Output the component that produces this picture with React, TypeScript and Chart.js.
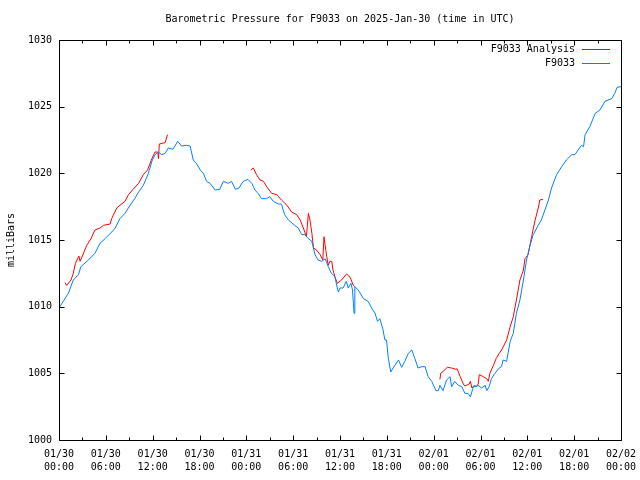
import React, { useEffect, useRef } from "react";
import { Chart, registerables } from "chart.js";

Chart.register(...registerables);

const FONT = "'DejaVu Sans Mono', 'Liberation Mono', monospace";

const titleText = "Barometric Pressure for F9033 on 2025-Jan-30 (time in UTC)";
const yAxisTitle = "milliBars";
const seriesNames = ["F9033 Analysis", "F9033"];

const xTickDates = ["01/30", "01/30", "01/30", "01/30", "01/31", "01/31", "01/31", "01/31", "02/01", "02/01", "02/01", "02/01", "02/02"];
const xTickTimes = ["00:00", "06:00", "12:00", "18:00", "00:00", "06:00", "12:00", "18:00", "00:00", "06:00", "12:00", "18:00", "00:00"];
const yTickValues = [1000, 1005, 1010, 1015, 1020, 1025, 1030];

// F9033 observations: hours since 2025-01-30 00:00 UTC, pressure in mb
const obsHours = [
  0.0, 0.55, 1.2, 1.83, 2.5, 2.8, 3.76, 4.6, 5.25, 5.9, 6.75, 7.2, 7.8, 8.45, 9.1, 9.7, 10.2, 10.8, 11.45, 11.9,
  12.3, 12.7, 13.15, 13.6, 14.0, 14.6, 15.2, 15.7, 16.35, 16.8, 17.2, 17.6, 18.1, 18.5, 18.9, 19.35, 20.0, 20.6, 21.05, 21.7,
  22.1, 22.6, 23.05, 23.6, 24.2, 24.7, 25.1, 25.5, 25.95, 26.6, 27.0, 27.45, 28.1, 28.5, 28.9, 29.4, 30.2, 30.65, 31.1, 31.5,
  31.95, 32.4, 32.8, 33.2, 33.65, 34.1, 34.5, 34.9, 35.35, 35.65, 35.8, 36.0, 36.4, 36.8, 37.05, 37.4, 37.6, 37.8, 37.9, 38.35,
  39.0, 39.6, 40.05, 40.5, 40.8, 41.1, 41.5, 41.75, 41.95, 42.2, 42.5, 42.8, 43.5, 43.9, 44.3, 44.75, 45.2, 45.6, 46.0, 46.5,
  46.9, 47.3, 47.75, 48.3, 48.6, 48.8, 49.2, 49.65, 50.1, 50.3, 50.7, 51.15, 51.6, 52.0, 52.4, 52.7, 53.1, 53.4, 53.7, 54.15,
  54.6, 54.8, 55.1, 55.4, 55.85, 56.4, 56.7, 56.9, 57.35, 57.8, 58.2, 58.6, 59.05, 59.5, 59.9, 60.3, 60.75, 61.4, 61.8, 62.25,
  62.7, 63.1, 63.75, 64.4, 65.0, 65.7, 66.1, 66.5, 66.95, 67.2, 67.4, 68.0, 68.7, 69.3, 69.95, 70.8, 71.2, 71.5, 72.0,
];
const obsPressure = [
  1009.9, 1010.4, 1011.0, 1012.0, 1012.4, 1013.0, 1013.5, 1014.0, 1014.75, 1015.1, 1015.6, 1015.9, 1016.6, 1017.0, 1017.6, 1018.1, 1018.6, 1019.1, 1020.0, 1020.9,
  1021.4, 1021.6, 1021.4, 1021.5, 1021.9, 1021.8, 1022.4, 1022.05, 1022.1, 1022.05, 1021.0, 1020.75, 1020.25, 1020.0, 1019.4, 1019.25, 1018.75, 1018.8, 1019.4, 1019.25,
  1019.4, 1018.8, 1018.9, 1019.4, 1019.55, 1019.25, 1018.75, 1018.5, 1018.1, 1018.1, 1018.25, 1017.9, 1017.7, 1017.7, 1016.9, 1016.5, 1016.1, 1015.9, 1015.4, 1015.4,
  1015.1, 1014.9, 1013.9, 1013.5, 1013.4, 1013.6, 1013.0, 1012.5, 1012.25, 1011.4, 1011.1, 1011.4, 1011.4, 1011.9, 1011.4, 1011.75, 1011.25, 1009.5, 1011.5, 1011.25,
  1010.6, 1010.4, 1009.9, 1009.5, 1008.9, 1009.1, 1008.3, 1007.5, 1007.5, 1006.1, 1005.1, 1005.4, 1006.0, 1005.45, 1005.9, 1006.5, 1006.75, 1006.1, 1005.4, 1005.5,
  1005.5, 1004.75, 1004.4, 1003.7, 1003.7, 1004.1, 1003.7, 1004.5, 1004.75, 1004.0, 1004.4, 1004.1, 1004.0, 1003.5, 1003.5, 1003.25, 1004.0, 1004.0, 1004.1, 1003.9,
  1004.1, 1003.7, 1004.0, 1004.6, 1005.0, 1005.4, 1005.5, 1006.0, 1005.9, 1007.4, 1008.0, 1009.5, 1010.5, 1012.0, 1013.5, 1014.5, 1015.4, 1016.1, 1016.5, 1017.25,
  1018.0, 1018.9, 1019.9, 1020.5, 1021.0, 1021.4, 1021.4, 1021.75, 1022.1, 1022.0, 1022.9, 1023.5, 1024.5, 1024.75, 1025.4, 1025.6, 1026.0, 1026.45, 1026.5,
];

// F9033 Analysis: three segments, null marks a gap
const anaHours = [
  0.77, 0.98, 1.54, 1.83, 2.1, 2.55, 2.7, 3.0, 3.55, 4.1, 4.6, 5.25, 5.7, 6.55, 6.75, 7.4, 7.8, 8.45, 8.9, 9.5,
  10.2, 10.8, 11.35, 11.9, 12.3, 12.65, 12.75, 12.85, 13.6, 13.9,
  19.0,
  24.6, 24.9, 25.3, 25.75, 26.2, 26.6, 27.25, 27.9, 28.5, 29.2, 29.8, 30.45, 30.9, 31.3, 31.7, 31.95, 32.15, 32.4, 32.6, 33.0,
  33.45, 33.8, 33.95, 34.1, 34.3, 34.5, 34.7, 34.95, 35.1, 35.35, 35.65, 36.2, 36.85, 37.3, 37.7, 37.9,
  43.0,
  48.8, 48.9, 49.3, 49.75, 50.3, 50.85, 51.0, 51.4, 51.8, 52.0, 52.55, 52.7, 52.9, 53.2, 53.5, 53.7, 53.85, 54.35, 54.8, 55.0,
  55.2, 55.65, 56.0, 56.4, 56.7, 57.35, 57.8, 58.2, 58.6, 59.05, 59.5, 59.7, 60.1, 60.55, 61.0, 61.4, 61.6, 62.0,
];
const anaPressure: (number | null)[] = [
  1011.8, 1011.6, 1012.0, 1012.5, 1013.25, 1013.8, 1013.4, 1013.8, 1014.6, 1015.1, 1015.75, 1015.9, 1016.1, 1016.2, 1016.6, 1017.4, 1017.6, 1017.9, 1018.4, 1018.8,
  1019.25, 1019.9, 1020.25, 1021.1, 1021.6, 1021.6, 1021.1, 1022.2, 1022.3, 1022.9,
  null,
  1020.25, 1020.4, 1019.9, 1019.5, 1019.4, 1019.0, 1018.5, 1018.4, 1018.0, 1017.6, 1017.1, 1016.9, 1016.5, 1015.9, 1015.25, 1017.0, 1016.5, 1015.5, 1014.4, 1014.25,
  1013.9, 1013.5, 1015.25, 1014.6, 1013.75, 1013.1, 1013.4, 1013.4, 1012.75, 1012.25, 1011.75, 1012.0, 1012.45, 1012.2, 1011.6, 1011.5,
  null,
  1004.55, 1005.0, 1005.2, 1005.45, 1005.4, 1005.3, 1005.35, 1004.75, 1004.2, 1004.05, 1004.2, 1004.4, 1003.9, 1004.1, 1004.0, 1004.2, 1004.9, 1004.75, 1004.6, 1004.4,
  1005.0, 1005.6, 1006.1, 1006.5, 1006.75, 1007.5, 1008.5, 1009.25, 1010.5, 1012.0, 1012.75, 1013.6, 1013.9, 1015.25, 1016.5, 1017.4, 1018.0, 1018.05,
];

const RED = "#ff0000";
const BLUE = "#0080ff";

const framePlugin = {
  id: "gnuFrame",
  afterDraw(chart: any) {
    const { ctx, chartArea: a, scales } = chart;
    const xs = scales.x;
    const ys = scales.y;
    const L = Math.round(a.left) + 0.5;
    const R = Math.round(a.right) + 0.5;
    const T = Math.round(a.top) + 0.5;
    const B = Math.round(a.bottom) + 0.5;
    ctx.save();
    ctx.strokeStyle = "#000";
    ctx.lineWidth = 1;
    ctx.beginPath();
    ctx.rect(L, T, R - L, B - T);
    // x ticks (major every 6h, minor every 3h), inward on bottom and top
    for (let h = 0; h <= 72; h += 3) {
      const len = h % 6 === 0 ? 5 : 3;
      const px = Math.round(xs.getPixelForValue(h)) + 0.5;
      ctx.moveTo(px, B);
      ctx.lineTo(px, B - len);
      ctx.moveTo(px, T);
      ctx.lineTo(px, T + len);
    }
    // y ticks inward on left and right
    for (const v of yTickValues) {
      const py = Math.round(ys.getPixelForValue(v)) + 0.5;
      ctx.moveTo(L, py);
      ctx.lineTo(L + 5, py);
      ctx.moveTo(R, py);
      ctx.lineTo(R - 5, py);
    }
    ctx.stroke();

    // title
    ctx.fillStyle = "#000";
    ctx.font = `10px ${FONT}`;
    ctx.textAlign = "center";
    ctx.textBaseline = "middle";
    ctx.fillText(titleText, (a.left + a.right) / 2, 19);

    // y axis title
    ctx.save();
    ctx.translate(11, (a.top + a.bottom) / 2);
    ctx.rotate(-Math.PI / 2);
    ctx.fillText(yAxisTitle, 0, 0);
    ctx.restore();

    // legend (gnuplot style: text right-aligned, sample line to the right)
    const colors = [RED, BLUE];
    seriesNames.forEach((name, i) => {
      const yy = 49 + i * 14;
      ctx.textAlign = "right";
      ctx.fillStyle = "#000";
      ctx.fillText(name, 575, yy);
      ctx.strokeStyle = colors[i];
      ctx.beginPath();
      ctx.moveTo(582, Math.round(yy) + 0.5);
      ctx.lineTo(610, Math.round(yy) + 0.5);
      ctx.stroke();
    });
    ctx.restore();
  },
};

export default function App() {
  const ref = useRef<HTMLCanvasElement>(null);
  useEffect(() => {
    const obsData = obsHours.map((h, i) => ({ x: h, y: obsPressure[i] }));
    const anaData = anaHours.map((h, i) => ({ x: h, y: anaPressure[i] }));
    const chart = new Chart(ref.current as HTMLCanvasElement, {
      type: "line",
      data: {
        datasets: [
          {
            label: seriesNames[1],
            data: obsData,
            borderColor: BLUE,
            borderWidth: 1,
            pointRadius: 0,
            tension: 0,
            fill: false,
          },
          {
            label: seriesNames[0],
            data: anaData as any,
            borderColor: RED,
            borderWidth: 1,
            pointRadius: 0,
            tension: 0,
            fill: false,
            spanGaps: false,
          },
        ],
      },
      options: {
        responsive: false,
        animation: false,
        devicePixelRatio: 1,
        layout: { padding: { top: 40, right: 19, bottom: 0, left: 0 } },
        plugins: {
          legend: { display: false },
          title: { display: false },
          tooltip: { enabled: false },
        },
        scales: {
          x: {
            type: "linear",
            min: 0,
            max: 72,
            grid: { display: false, drawTicks: false },
            border: { display: false },
            afterFit: (s: any) => {
              s.height = 40;
              s.paddingLeft = 0;
              s.paddingRight = 0;
            },
            ticks: {
              stepSize: 6,
              autoSkip: false,
              maxRotation: 0,
              minRotation: 0,
              padding: 8,
              color: "#000",
              font: { family: FONT, size: 10, lineHeight: 1.3 },
              callback: (v: any) => {
                const i = Math.round(Number(v) / 6);
                return [xTickDates[i], xTickTimes[i]];
              },
            },
          },
          y: {
            type: "linear",
            min: 1000,
            max: 1030,
            grid: { display: false, drawTicks: false },
            border: { display: false },
            afterFit: (s: any) => {
              s.width = 59;
              s.paddingTop = 0;
              s.paddingBottom = 0;
            },
            ticks: {
              stepSize: 5,
              padding: 7,
              color: "#000",
              font: { family: FONT, size: 10 },
              callback: (v: any) => String(v),
            },
          },
        },
      },
      plugins: [framePlugin],
    });
    return () => chart.destroy();
  }, []);
  return (
    <div style={{ position: "absolute", left: 0, top: 0, width: 640, height: 480, background: "#fff" }}>
      <canvas ref={ref} width={640} height={480} style={{ display: "block", width: 640, height: 480 }} />
    </div>
  );
}
